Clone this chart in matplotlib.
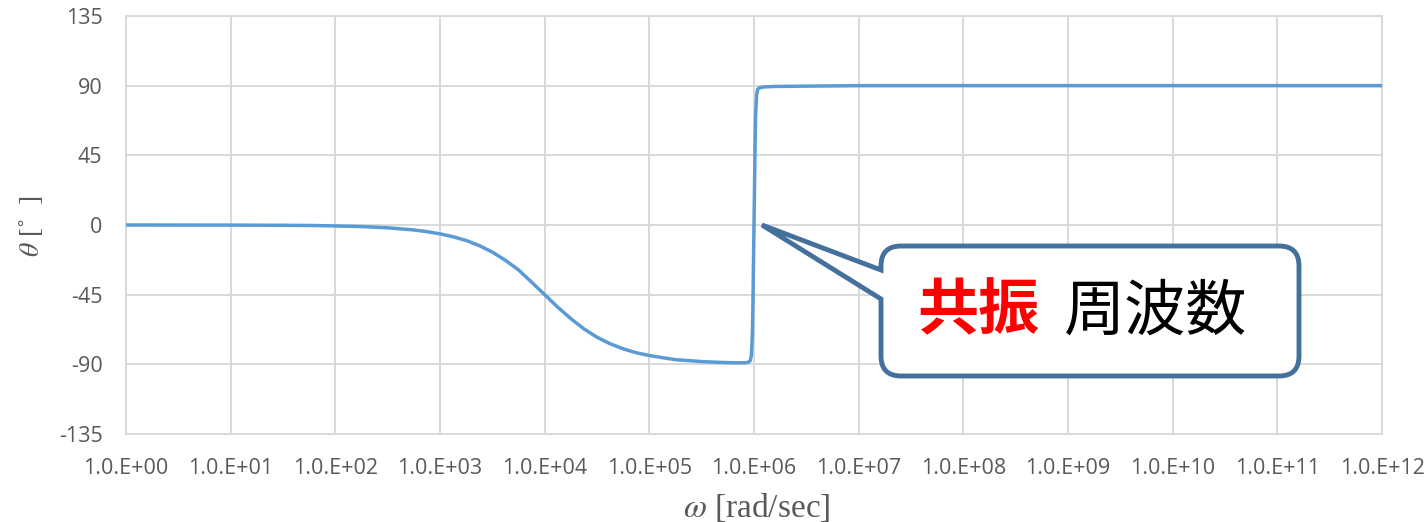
import matplotlib.pyplot as plt
from matplotlib.path import Path
from matplotlib.patches import PathPatch
from matplotlib.transforms import Affine2D

plt.rcParams['mathtext.fontset'] = 'stix'
plt.rcParams['axes.unicode_minus'] = False

# phase (log10 of omega, degrees)
logw = [0, 1, 1.5, 1.75, 2, 2.25, 2.5, 2.75, 2.875, 3, 3.125, 3.25, 3.375, 3.5, 3.625,
        3.75, 3.875, 4, 4.125, 4.25, 4.375, 4.5, 4.625, 4.75, 4.875, 5, 5.125, 5.25,
        5.375, 5.5, 5.625, 5.75, 5.85, 5.92, 5.95, 5.965, 5.975, 5.985, 5.99, 6.0,
        6.01, 6.015, 6.025, 6.035, 6.05, 6.1, 6.2, 6.5, 7, 8, 9, 10, 11, 12]
theta = [0, -0.06, -0.2, -0.3, -0.6, -1.0, -1.8, -3.2, -4.3, -5.7, -7.6, -10, -13.3,
         -17.5, -22.8, -29, -36.9, -45, -53.1, -60.5, -67.1, -72.5, -76.7, -80, -82.5,
         -84.3, -85.7, -87, -87.6, -88.2, -88.6, -88.9, -89, -89, -88.5, -87.5, -84,
         -70, -50, 0, 50, 70, 84, 87.5, 88.6, 89.2, 89.5, 89.7, 90, 90, 90, 90, 90, 90]
omega = [10 ** v for v in logw]

xticks = [10 ** k for k in range(13)]
xlabels = ['1.0.E+%02d' % k for k in range(13)]
yticks = [-135, -90, -45, 0, 45, 90, 135]

fig = plt.figure(figsize=(14.27, 5.22), dpi=100)
ax = fig.add_axes([126 / 1427, 1 - 434 / 522, (1382 - 126) / 1427, (434 - 16) / 522])

ax.plot(omega, theta, color='#5b9bd5', lw=2.5, solid_joinstyle='round', zorder=3)

ax.set_xscale('log')
ax.set_xlim(1, 1e12)
ax.set_ylim(-135, 135)
ax.set_xticks(xticks)
ax.set_xticklabels(xlabels)
ax.minorticks_off()
ax.set_yticks(yticks)
ax.grid(True, color='#d9d9d9', lw=1.4)
for s in ax.spines.values():
    s.set_color('#d9d9d9')
    s.set_linewidth(1.4)
ax.tick_params(length=0, labelsize=15.5, labelcolor='#595959')
ax.tick_params(axis='x', pad=17)
ax.tick_params(axis='y', pad=17)
for lab in ax.get_xticklabels() + ax.get_yticklabels():
    lab.set_family('Open Sans')

fig.text(31 / 1427, 1 - 226 / 522, r'$\theta$ [˚  ]', rotation=90, ha='center', va='center',
         fontsize=20, color='#595959', family='Liberation Serif')
fig.text(757 / 1427, 1 - 507 / 522, r'$\omega$ [rad/sec]', ha='center', va='center',
         fontsize=24, color='#595959', family='Liberation Serif')

# callout balloon, drawn in reference pixel coordinates
px = Affine2D().scale(1 / 1427, -1 / 522).translate(0, 1) + fig.transFigure
L, R, T, B, r = 881, 1299, 246, 376, 20
verts = [(L + r, T), (R - r, T), (R, T), (R, T + r), (R, B - r), (R, B), (R - r, B),
         (L + r, B), (L, B), (L, B - r), (L, 299), (762, 225), (L, 270), (L, T + r),
         (L, T), (L + r, T)]
codes = [Path.MOVETO, Path.LINETO, Path.CURVE3, Path.CURVE3, Path.LINETO, Path.CURVE3,
         Path.CURVE3, Path.LINETO, Path.CURVE3, Path.CURVE3, Path.LINETO, Path.LINETO,
         Path.LINETO, Path.LINETO, Path.CURVE3, Path.CURVE3]
balloon = PathPatch(Path(verts, codes), transform=px, facecolor='white',
                    edgecolor='#44709c', lw=3.5, joinstyle='miter', zorder=5)
fig.add_artist(balloon)
fig.text(917 / 1427, 1 - 312 / 522, '共振', ha='left', va='center', fontsize=44,
         color='#ff0000', weight='bold', family='Noto Sans CJK JP', zorder=6)
fig.text(1064 / 1427, 1 - 312 / 522, '周波数', ha='left', va='center', fontsize=44,
         color='black', family='Noto Sans CJK JP', zorder=6)

fig.savefig('out.png', dpi=100)
